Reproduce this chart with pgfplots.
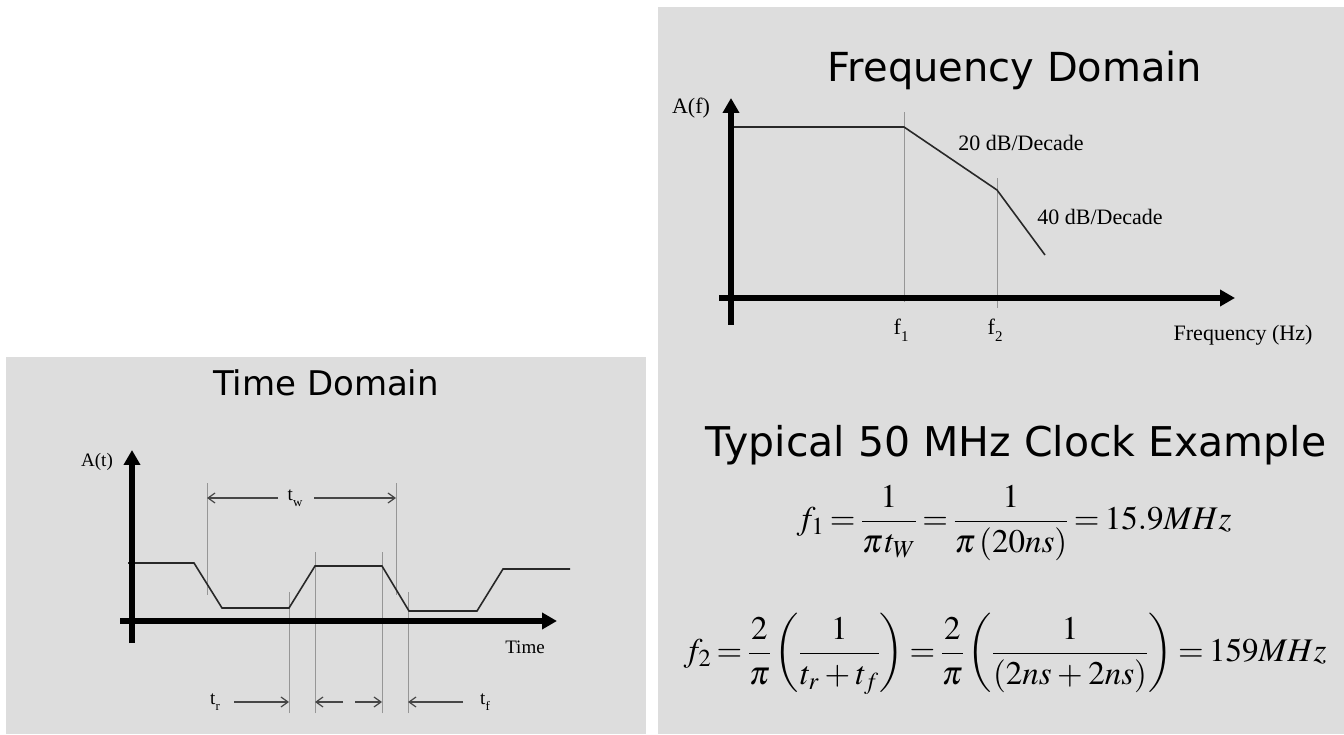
\documentclass[border=0pt]{standalone}
\usepackage{amsmath}
\usepackage{mathptmx}
\usepackage{fontspec}
\setmainfont{Liberation Serif}
\newfontfamily\titlefont{DejaVu Sans}
\usepackage{pgfplots}
\pgfplotsset{compat=1.18}
\usetikzlibrary{arrows.meta}

\definecolor{panel}{RGB}{221,221,221}
\definecolor{trace}{RGB}{40,40,40}
\definecolor{guidegray}{RGB}{150,150,150}
\definecolor{dimgray}{RGB}{70,70,70}

\pgfplotsset{
  sketch/.style={
    scale only axis, clip=false, axis on top,
    axis lines=middle,
    axis line style={black, line width=6pt, -{Triangle[length=15pt,width=16pt]}},
    xtick=\empty, ytick=\empty,
  },
  guideline/.style={guidegray, line width=1pt, no marks},
  dimarrow/.style={dimgray, line width=1.2pt, no marks,
    -{Straight Barb[length=7pt,width=10pt,line width=1.2pt]}},
}

% subscripted serif symbol, e.g. t_r, f_1
\newcommand{\sub}[2]{#1\kern0.2pt\raisebox{-0.3em}{\scalebox{0.68}{#2}}}

\begin{document}
\begin{tikzpicture}
  % page and the two panels
  \fill[white] (0,0) rectangle (1344pt,734pt);
  \fill[panel] (6pt,0pt) rectangle (646pt,377pt);
  \fill[panel] (658pt,0pt) rectangle (1344pt,727pt);

  % titles
  \node[font=\titlefont\fontsize{34}{40}\selectfont] at (326pt,351pt) {Time Domain};
  \node[font=\titlefont\fontsize{40}{48}\selectfont] at (1015pt,664pt) {Frequency Domain};
  \node[font=\titlefont\fontsize{41}{48}\selectfont] at (1016pt,289pt) {Typical 50 MHz Clock Example};

  % ---------------- time domain ----------------
  \begin{axis}[sketch, at={(120pt,91pt)}, anchor=south west,
    width=437pt, height=193pt, xmin=-12, xmax=425, ymin=-22, ymax=171]
    % edge guides
    \addplot[guideline] coordinates {(75,26) (75,138)};
    \addplot[guideline] coordinates {(264,26) (264,138)};
    \addplot[guideline] coordinates {(157,-92) (157,29)};
    \addplot[guideline] coordinates {(183,-92) (183,69)};
    \addplot[guideline] coordinates {(250,-92) (250,69)};
    \addplot[guideline] coordinates {(276,-92) (276,29)};
    % pulse train
    \addplot[trace, line width=1.6pt, no marks] coordinates {
      (-4,58) (62,58) (90,13) (157,13) (183,55) (250,55)
      (277,10) (345,10) (371,52) (438,52)};
    % pulse width
    \addplot[dimarrow] coordinates {(146,123) (75,123)};
    \addplot[dimarrow] coordinates {(182,123) (264,123)};
    \node[font=\fontsize{19}{22}\selectfont] at (163,123) {\sub{t}{w}};
    % rise and fall times
    \addplot[dimarrow] coordinates {(102,-81) (157,-81)};
    \addplot[dimarrow] coordinates {(211,-81) (183,-81)};
    \addplot[dimarrow] coordinates {(223,-81) (250,-81)};
    \addplot[dimarrow] coordinates {(331,-81) (276,-81)};
    \node[font=\fontsize{19}{22}\selectfont] at (83,-81) {\sub{t}{r}};
    \node[font=\fontsize{19}{22}\selectfont] at (353,-81) {\sub{t}{f}};
    % axis names
    \node[font=\fontsize{19}{22}\selectfont] at (-35,159) {A(t)};
    \node[font=\fontsize{19}{22}\selectfont] at (393,-26) {Time};
  \end{axis}

  % ---------------- frequency domain ----------------
  \begin{axis}[sketch, at={(719pt,409pt)}, anchor=south west,
    width=516pt, height=227pt, xmin=-12, xmax=504, ymin=-27, ymax=200]
    % corner frequencies
    \addplot[guideline] coordinates {(173,-4) (173,186)};
    \addplot[guideline] coordinates {(266,-10) (266,120)};
    % spectral envelope
    \addplot[trace, line width=1.6pt, no marks] coordinates {
      (0,171) (173,171) (266,108) (314,43)};
    \node[font=\fontsize{22}{26}\selectfont] at (290,155) {20 dB/Decade};
    \node[font=\fontsize{22}{26}\selectfont] at (369,81) {40 dB/Decade};
    \node[font=\fontsize{22}{26}\selectfont] at (170,-32) {\sub{f}{1}};
    \node[font=\fontsize{22}{26}\selectfont] at (264,-32) {\sub{f}{2}};
    \node[font=\fontsize{22}{26}\selectfont] at (-40,190) {A(f)};
    \node[font=\fontsize{22}{26}\selectfont] at (512,-37) {Frequency (Hz)};
  \end{axis}

  % worked example
  \node at (1014pt,211pt) {\fontsize{33}{38}\selectfont\thickmuskip=3mu\medmuskip=3mu
    $\displaystyle f_1=\frac{1}{\pi\mkern1mu t_W}=\frac{1}{\pi\left(20ns\right)}=15.9MHz$};
  \node at (1005pt,80pt) {\fontsize{33}{38}\selectfont\thickmuskip=3mu\medmuskip=3mu
    $\displaystyle f_2=\frac{2}{\pi}\left(\frac{1}{t_r+t_f}\right)
      =\frac{2}{\pi}\left(\frac{1}{\left(2ns+2ns\right)}\right)=159MHz$};

  \pgfresetboundingbox
  \path[use as bounding box] (0,0) rectangle (1344pt,734pt);
\end{tikzpicture}
\end{document}
